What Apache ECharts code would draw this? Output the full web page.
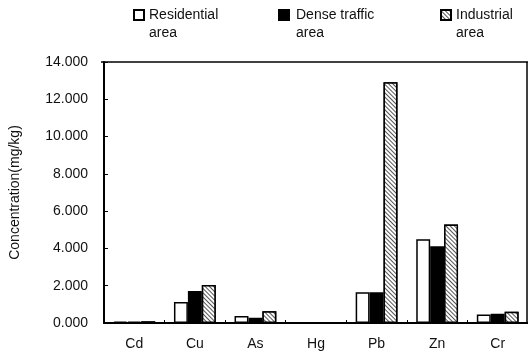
<!DOCTYPE html>
<html>
<head>
<meta charset="utf-8">
<script src="https://cdn.jsdelivr.net/npm/echarts@6/dist/echarts.min.js"></script>
<style>
  html, body { margin: 0; padding: 0; background: #fff; }
  #chart { width: 528px; height: 357px; }
</style>
</head>
<body>
<div id="chart"></div>
<script>
var elements = ['Cd', 'Cu', 'As', 'Hg', 'Pb', 'Zn', 'Cr'];
var seriesNames = ['Residential\narea', 'Dense traffic\narea', 'Industrial\narea'];
var residential = [0.08, 1.13, 0.38, 0.01, 1.65, 4.49, 0.45];
var denseTraffic = [0.08, 1.72, 0.28, 0.01, 1.65, 4.12, 0.5];
var industrial = [0.09, 2.04, 0.63, 0.01, 12.92, 5.28, 0.6];
var yTicks = [0, 2, 4, 6, 8, 10, 12, 14];

var fontFamily = 'Liberation Sans, Arial, sans-serif';
var hatch = {
    color: '#555',
    backgroundColor: '#fff',
    dashArrayX: [1, 0],
    dashArrayY: [1, 1.5],
    rotation: Math.PI / 4,
    symbol: 'rect',
    symbolSize: 1
};

var chart = echarts.init(document.getElementById('chart'));

// a blank first line keeps the icon level with the first text line
function legendAt(name, left, gap) {
    return {
        data: [name],
        left: left,
        top: -12,
        padding: 0,
        icon: 'rect',
        itemWidth: 10,
        itemHeight: 10,
        itemGap: 4,
        selectedMode: false,
        formatter: function (n) { return '\u00a0\n' + n; },
        textStyle: {
            fontFamily: fontFamily,
            fontSize: 14,
            color: '#111',
            lineHeight: 18,
            padding: [0, 0, 0, gap]
        }
    };
}

var option = {
    animation: false,
    legend: [
        legendAt(seriesNames[0], 133, 0),
        legendAt(seriesNames[1], 278, 2),
        legendAt(seriesNames[2], 440, 0)
    ],
    grid: { left: 101, top: 62, width: 429, height: 261 },
    xAxis: {
        type: 'category',
        data: elements,
        axisLine: { lineStyle: { color: '#000', width: 2 } },
        axisTick: { show: true, inside: true, length: 3, lineStyle: { color: '#000' } },
        axisLabel: { fontFamily: fontFamily, fontSize: 14, color: '#111', margin: 14 }
    },
    yAxis: {
        type: 'value',
        min: 0,
        max: 14,
        interval: 2,
        name: 'Concentration(mg/kg)',
        nameLocation: 'middle',
        nameGap: 82,
        nameTextStyle: { fontFamily: fontFamily, fontSize: 14, color: '#111' },
        axisLine: { show: true, lineStyle: { color: '#000', width: 2 } },
        axisTick: { show: true, inside: true, length: 4, lineStyle: { color: '#000' } },
        splitLine: { show: false },
        axisLabel: {
            fontFamily: fontFamily,
            fontSize: 14,
            color: '#111',
            margin: 16,
            formatter: function (v) {
                return yTicks.indexOf(v) >= 0 ? v.toFixed(3) : '';
            }
        }
    },
    graphic: [{
        type: 'line',
        shape: { x1: 101, y1: 62, x2: 530, y2: 62 },
        style: { stroke: '#000', lineWidth: 1.5 }
    }, {
        type: 'line',
        shape: { x1: 527, y1: 62, x2: 527, y2: 323 },
        style: { stroke: '#000', lineWidth: 1.5 }
    }],
    series: [{
        name: seriesNames[0],
        type: 'bar',
        data: residential,
        barGap: '0%',
        barCategoryGap: '31%',
        itemStyle: { color: '#fff', borderColor: '#000', borderWidth: 1.5 }
    }, {
        name: seriesNames[1],
        type: 'bar',
        data: denseTraffic,
        itemStyle: { color: '#000', borderColor: '#000', borderWidth: 1.5 }
    }, {
        name: seriesNames[2],
        type: 'bar',
        data: industrial,
        itemStyle: { color: '#fff', borderColor: '#000', borderWidth: 1.5, decal: hatch }
    }]
};

chart.setOption(option);
</script>
</body>
</html>
